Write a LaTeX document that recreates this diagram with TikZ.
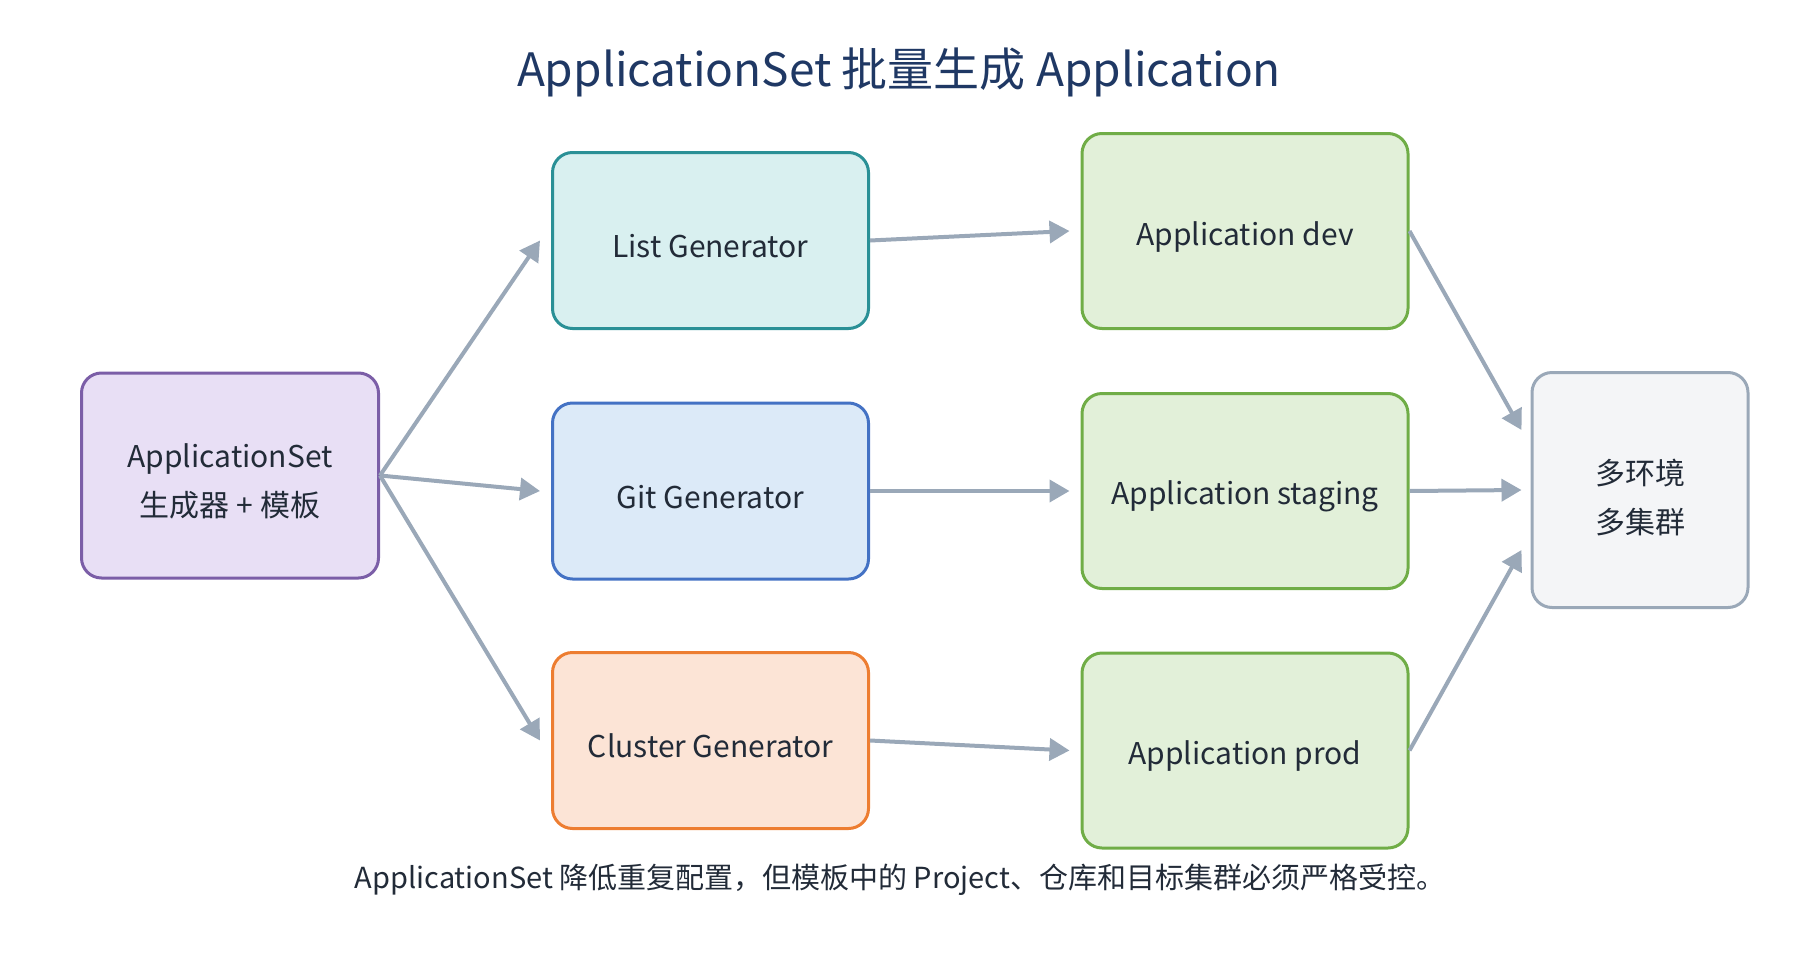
\documentclass[tikz,border=0pt]{standalone}
\usepackage{fontspec}
\setmainfont{Noto Sans CJK SC}
\usetikzlibrary{arrows.meta,calc}
\definecolor{titlec}{HTML}{1F3864}
\definecolor{txt}{HTML}{222B38}
\definecolor{arr}{HTML}{9AA8B8}
\definecolor{pfill}{HTML}{E8DFF5}\definecolor{pdraw}{HTML}{7B5EA7}
\definecolor{tfill}{HTML}{D9F0F0}\definecolor{tdraw}{HTML}{2A9096}
\definecolor{bfill}{HTML}{DCEAF8}\definecolor{bdraw}{HTML}{4472C4}
\definecolor{ofill}{HTML}{FCE4D6}\definecolor{odraw}{HTML}{ED7D31}
\definecolor{gfill}{HTML}{E2F0D9}\definecolor{gdraw}{HTML}{70AD47}
\definecolor{sfill}{HTML}{F4F5F7}\definecolor{sdraw}{HTML}{9AA8B8}
\tikzset{
  box/.style={draw, line width=3pt, rounded corners=20pt, inner sep=0pt,
    align=center, text=txt, font=\fontsize{30}{49}\selectfont},
  onebox/.style={box, execute at begin node={\rule{0pt}{35pt}}},
  gen/.style={onebox, minimum width=316pt, minimum height=176pt},
  appbox/.style={onebox, draw=gdraw, fill=gfill, minimum width=326pt, minimum height=195pt},
  conn/.style={draw=arr, line width=4pt, -{Triangle[length=20pt,width=22pt]}},
}
\begin{document}
\begin{tikzpicture}[x=1pt,y=-1pt]
\useasboundingbox (0,0) rectangle (1800,980);
\node[text=titlec, font=\fontsize{46}{54}\selectfont] (title) at (899,72) {ApplicationSet 批量生成 Application};
\node[box, draw=pdraw, fill=pfill, minimum width=297pt, minimum height=205pt] (aset) at (230,475.5) {\rule{0pt}{35pt}ApplicationSet\\生成器 + 模板};
\node[gen, draw=tdraw, fill=tfill] (list) at (710.5,240.5) {List Generator};
\node[gen, draw=bdraw, fill=bfill] (git) at (710.5,491) {Git Generator};
\node[gen, draw=odraw, fill=ofill] (cluster) at (710.5,740.5) {Cluster Generator};
\node[appbox] (dev) at (1245,231) {Application dev};
\node[appbox] (staging) at (1245,491) {Application staging};
\node[appbox] (prod) at (1245,750.5) {Application prod};
\node[box, draw=sdraw, fill=sfill, minimum width=216pt, minimum height=235pt] (multi) at (1640,490) {\rule{0pt}{40pt}多环境\\多集群};
\node[text=txt, font=\fontsize{29}{34}\selectfont] (foot) at (900,880) {ApplicationSet 降低重复配置，但模板中的 Project、仓库和目标集群必须严格受控。};
\draw[conn] (aset.east) -- ($(list.west)+(-11,0)$);
\draw[conn] (aset.east) -- ($(git.west)+(-11,0)$);
\draw[conn] (aset.east) -- ($(cluster.west)+(-11,0)$);
\draw[conn] (list.east) -- ($(dev.west)+(-11,0)$);
\draw[conn] (git.east) -- ($(staging.west)+(-11,0)$);
\draw[conn] (cluster.east) -- ($(prod.west)+(-11,0)$);
\draw[conn] (dev.east) -- ($(multi.west)+(-9,-60)$);
\draw[conn] (staging.east) -- ($(multi.west)+(-9,0)$);
\draw[conn] (prod.east) -- ($(multi.west)+(-9,60)$);
\end{tikzpicture}
\end{document}
